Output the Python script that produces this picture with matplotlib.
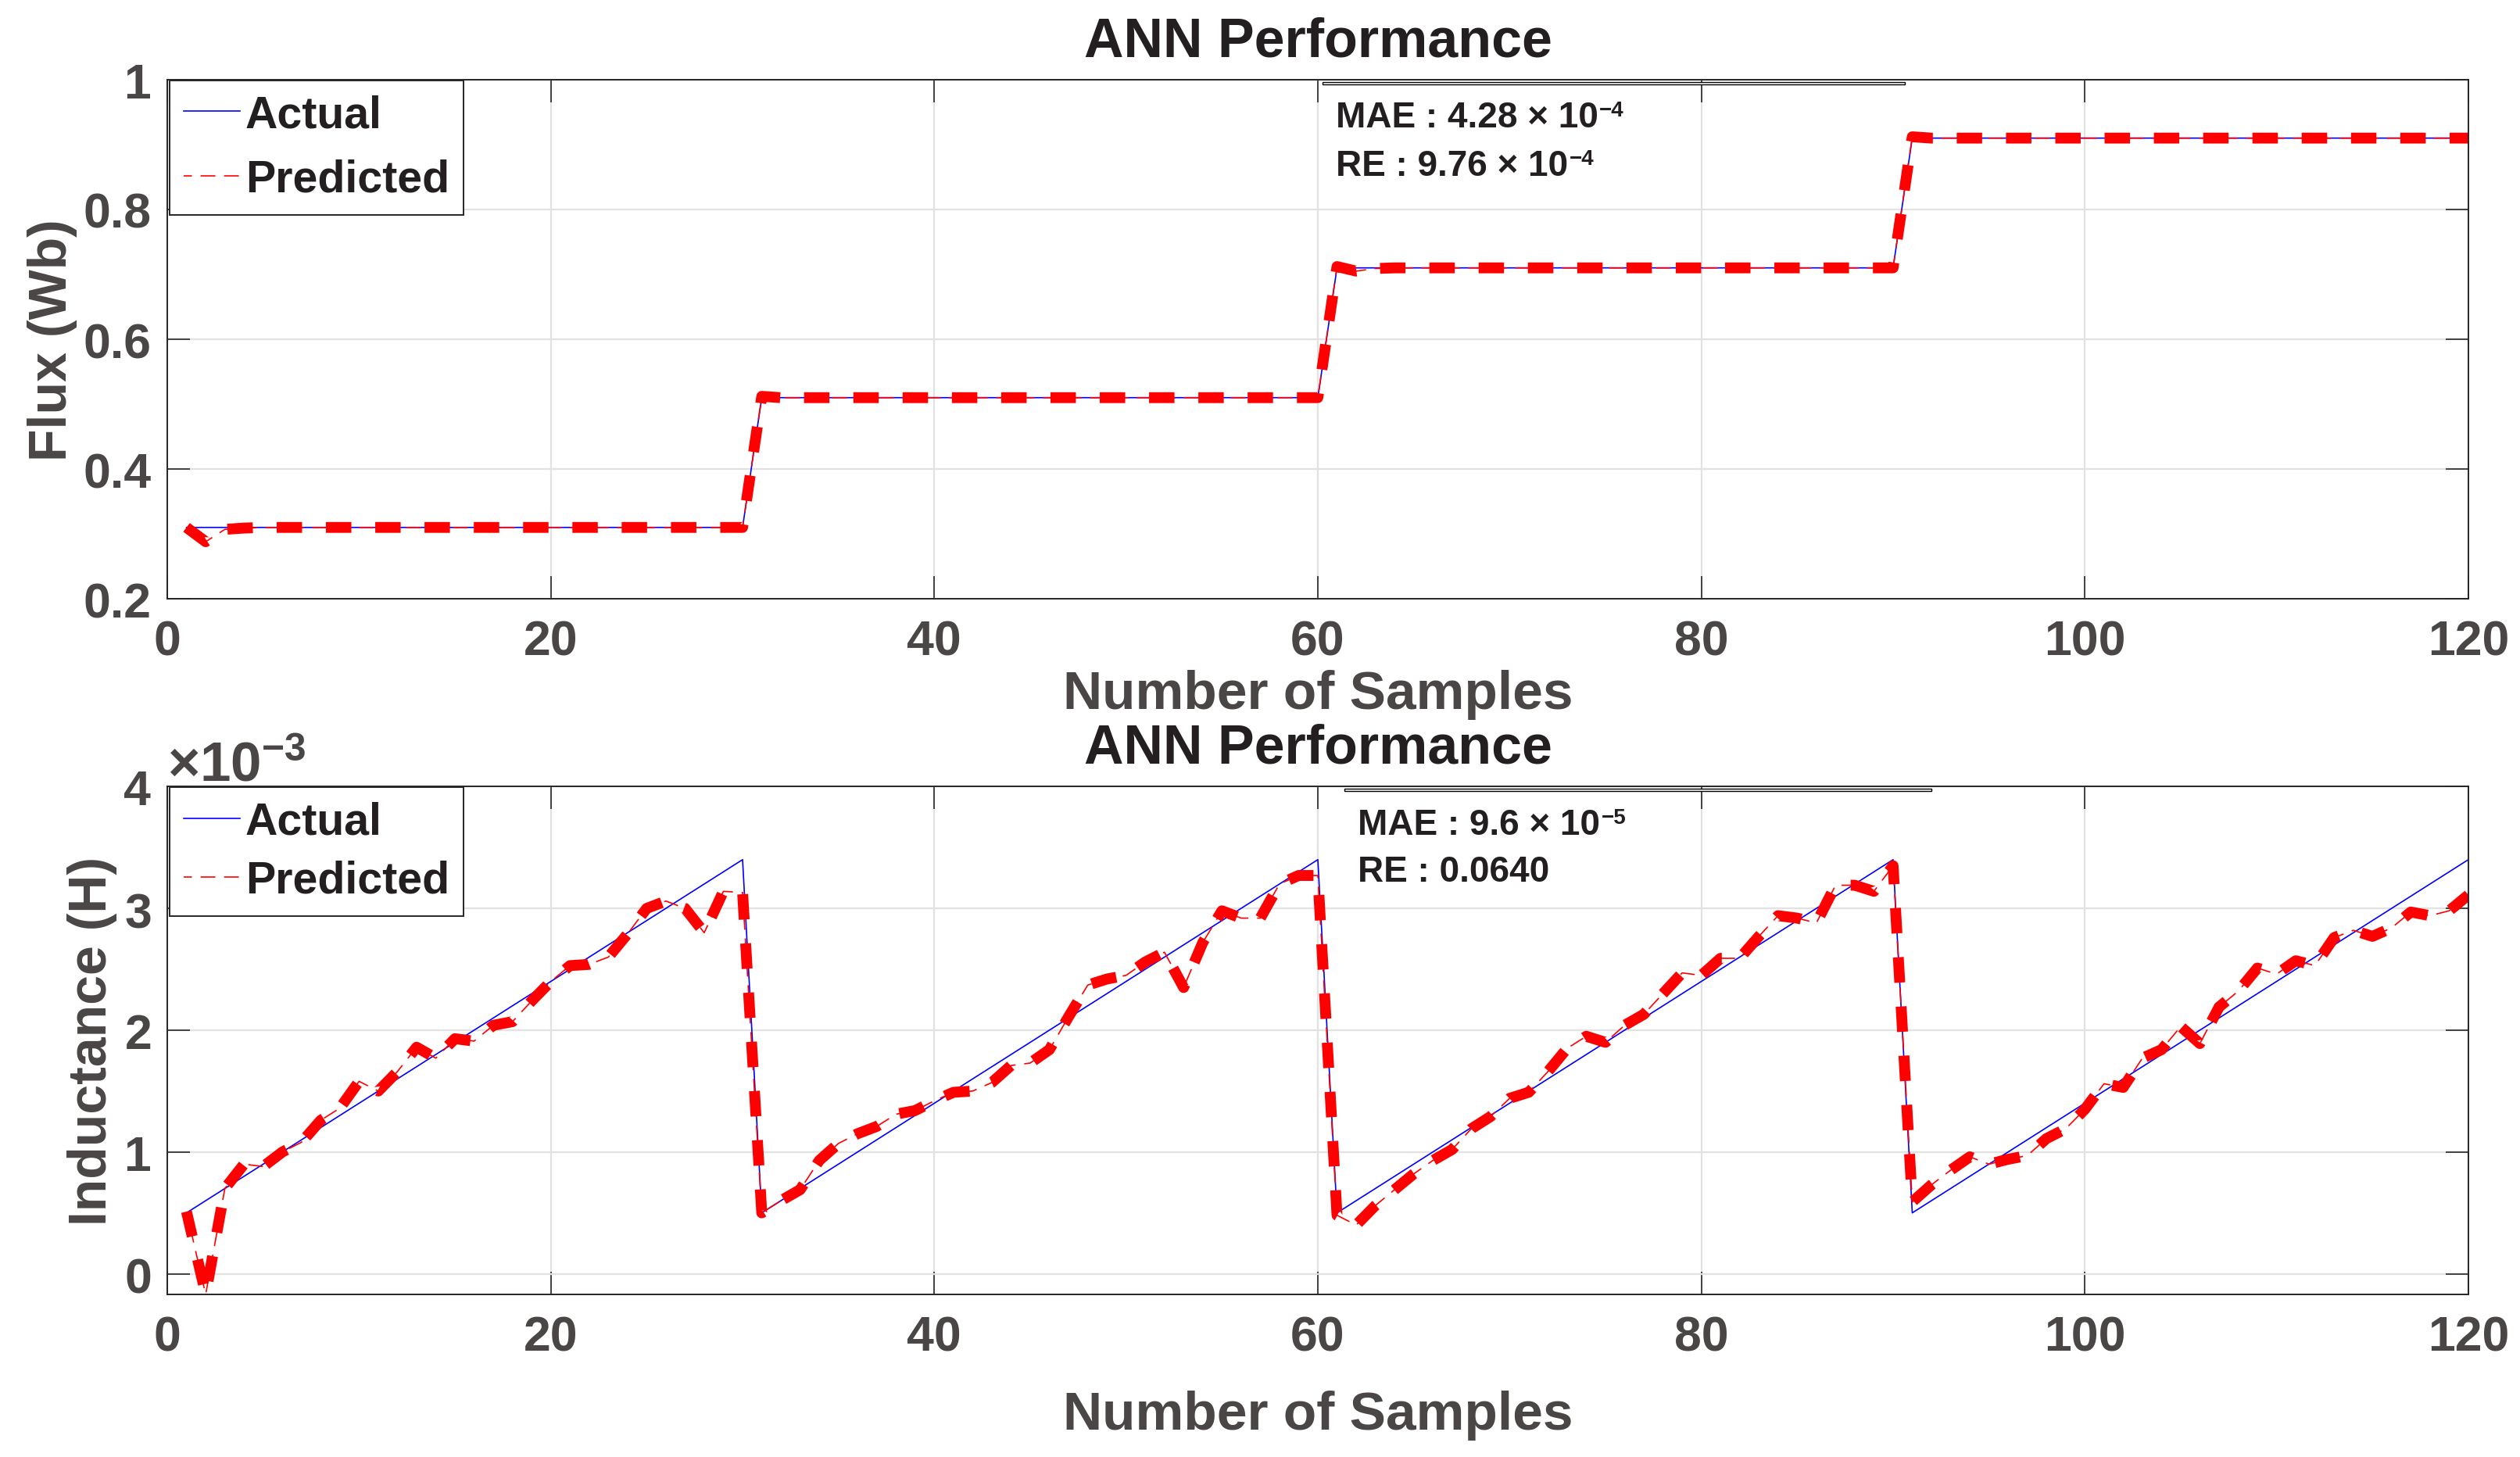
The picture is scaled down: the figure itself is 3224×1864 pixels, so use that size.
import numpy as np
import matplotlib
matplotlib.use("Agg")
import matplotlib.pyplot as plt
from matplotlib.patches import Rectangle

# ── Data ──
samples = list(range(1, 121))

flux_actual = [0.31] * 30 + [0.51] * 30 + [0.71] * 30 + [0.91] * 30
flux_pred = ([0.31, 0.288, 0.307, 0.309] + [0.31] * 26 +
             [0.512] + [0.51] * 29 +
             [0.712, 0.705, 0.709] + [0.71] * 27 +
             [0.912] + [0.91] * 29)

# inductance in units of 1e-3 H
ramp = [0.5, 0.6, 0.7, 0.8, 0.9, 1.0, 1.1, 1.2, 1.3, 1.4,
        1.5, 1.6, 1.7, 1.8, 1.9, 2.0, 2.1, 2.2, 2.3, 2.4,
        2.5, 2.6, 2.7, 2.8, 2.9, 3.0, 3.1, 3.2, 3.3, 3.4]
ind_actual = ramp * 4
ind_pred = [0.51, -0.17, 0.70, 0.90, 0.88, 1.00, 1.08, 1.26, 1.36, 1.58,
            1.50, 1.66, 1.86, 1.77, 1.93, 1.91, 2.04, 2.07, 2.24, 2.40,
            2.53, 2.54, 2.60, 2.79, 3.00, 3.06, 3.00, 2.80, 3.14, 3.13,
            0.50, 0.60, 0.69, 0.93, 1.07, 1.15, 1.21, 1.31, 1.34, 1.42,
            1.49, 1.50, 1.57, 1.71, 1.73, 1.84, 2.11, 2.37, 2.42, 2.45,
            2.56, 2.64, 2.35, 2.72, 2.98, 2.92, 2.92, 3.20, 3.27, 3.27,
            0.48, 0.40, 0.56, 0.69, 0.82, 0.93, 1.02, 1.19, 1.29, 1.44,
            1.49, 1.66, 1.85, 1.95, 1.90, 2.04, 2.13, 2.30, 2.47, 2.45,
            2.59, 2.59, 2.77, 2.94, 2.92, 2.88, 3.19, 3.19, 3.14, 3.35,
            0.59, 0.73, 0.85, 0.96, 0.90, 0.94, 0.97, 1.11, 1.19, 1.35,
            1.56, 1.53, 1.77, 1.84, 2.03, 1.89, 2.19, 2.32, 2.51, 2.46,
            2.57, 2.53, 2.76, 2.82, 2.77, 2.84, 2.97, 2.94, 2.98, 3.11]
ind_actual = np.array(ind_actual) * 1e-3
ind_pred = np.array(ind_pred) * 1e-3

x_ticks = [0, 20, 40, 60, 80, 100, 120]
flux_ticks = [0.2, 0.4, 0.6, 0.8, 1.0]
flux_ticklabels = ["0.2", "0.4", "0.6", "0.8", "1"]
ind_ticks = [0, 1e-3, 2e-3, 3e-3, 4e-3]

# ── Style ──
plt.rcParams['font.family'] = ['Liberation Sans', 'DejaVu Sans']
plt.rcParams['font.weight'] = 'bold'
plt.rcParams['axes.titleweight'] = 'bold'
plt.rcParams['axes.labelweight'] = 'bold'
plt.rcParams['mathtext.default'] = 'regular'
plt.rcParams['lines.scale_dashes'] = False
plt.rcParams['axes.unicode_minus'] = True

GRAY = '#4a4646'
DARK = '#231f20'
SPINE = '#262626'

W, H = 3224, 1865
fig = plt.figure(figsize=(W / 200, H / 200), dpi=200)
ax1 = fig.add_axes([0.0664, 0.5887, 0.9131, 0.3561])
ax2 = fig.add_axes([0.0664, 0.1115, 0.9131, 0.3484])


def style_axes(ax):
    ax.grid(True, color='#e2e2e2', linewidth=0.8)
    ax.set_axisbelow(True)
    for sp in ax.spines.values():
        sp.set_color(SPINE)
        sp.set_linewidth(0.7)
    ax.tick_params(direction='in', length=10.4, width=0.6, color=SPINE,
                   top=True, right=True, labelsize=22.5, labelcolor=GRAY)
    ax.tick_params(axis='x', pad=9)
    ax.tick_params(axis='y', pad=7.5)


def plot_pair(ax, actual, pred):
    ax.plot(samples, actual, color='blue', linewidth=0.6, label='Actual')
    ax.plot(samples, pred, color='red', linewidth=5, linestyle=(0, (11.7, 11)),
            dash_capstyle='butt')
    ax.plot(samples, pred, color='red', linewidth=0.6, linestyle=(3, (6.8, 4)),
            label='Predicted')


def add_legend(ax, spacing):
    leg = ax.legend(loc='upper left', bbox_to_anchor=(0.001, 0.999), borderaxespad=0,
                    fontsize=20.6, handlelength=1.26, handletextpad=0.12,
                    labelspacing=spacing, borderpad=0.31, fancybox=False,
                    framealpha=1, edgecolor=SPINE)
    leg.get_frame().set_linewidth(0.7)
    for t in leg.get_texts():
        t.set_color(DARK)
    return leg


# ── Top: flux ──
plot_pair(ax1, flux_actual, flux_pred)
style_axes(ax1)
ax1.set_xlim(0, 120)
ax1.set_ylim(0.2, 1.0)
ax1.set_xticks(x_ticks)
ax1.set_yticks(flux_ticks)
ax1.set_yticklabels(flux_ticklabels)
ax1.set_title("ANN Performance", fontsize=25.2, color=DARK, pad=11)
ax1.set_xlabel("Number of Samples", fontsize=25, color=GRAY, labelpad=2)
ax1.set_ylabel("Flux (Wb)", fontsize=24.5, color=GRAY, labelpad=2.5)
add_legend(ax1, 0.5)

# ── Bottom: inductance ──
plot_pair(ax2, ind_actual, ind_pred)
style_axes(ax2)
ax2.set_xlim(0, 120)
ax2.set_ylim(-0.17e-3, 4e-3)
ax2.set_xticks(x_ticks)
ax2.set_yticks(ind_ticks)
ax2.ticklabel_format(axis='y', style='sci', scilimits=(-3, -3), useMathText=True)
off = ax2.yaxis.get_offset_text()
off.set_fontsize(25.5)
off.set_color(GRAY)
ax2.set_title("ANN Performance", fontsize=25.2, color=DARK, pad=11)
ax2.set_xlabel("Number of Samples", fontsize=25, color=GRAY, labelpad=13.5)
ax2.set_ylabel("Inductance (H)", fontsize=24.5, color=GRAY, labelpad=2.5)
add_legend(ax2, 0.37)

# ── Metric text boxes ──
boxes = [
    # left px, right px, top px, text x px, [(text, superscript, baseline px)]
    (1692, 2437, 106, 1709, [("MAE : 4.28 \u00d7 10", "\u22124", 163),
                             ("RE : 9.76 \u00d7 10", "\u22124", 225)]),
    (1720, 2471, 1010, 1737, [("MAE : 9.6 \u00d7 10", "\u22125", 1068),
                              ("RE : 0.0640", None, 1128)]),
]
for left, right, top, tx, lines in boxes:
    fig.add_artist(Rectangle((left / W, 1 - (top + 3) / H), (right - left) / W, 3 / H,
                             transform=fig.transFigure, facecolor='white',
                             edgecolor='black', linewidth=0.5, zorder=10))
    for txt, sup, base in lines:
        t = fig.text(tx / W, 1 - base / H, txt, fontsize=16.5, color=DARK,
                     va='baseline', ha='left', zorder=11)
        if sup:
            ann = plt.annotate(sup, xy=(1, 1), xycoords=t, xytext=(0.5, 0),
                               textcoords='offset points', fontsize=10,
                               color=DARK, va='top', ha='left',
                               annotation_clip=False)
            ann.remove()
            fig.add_artist(ann)

fig.savefig("out.png", dpi=200)
